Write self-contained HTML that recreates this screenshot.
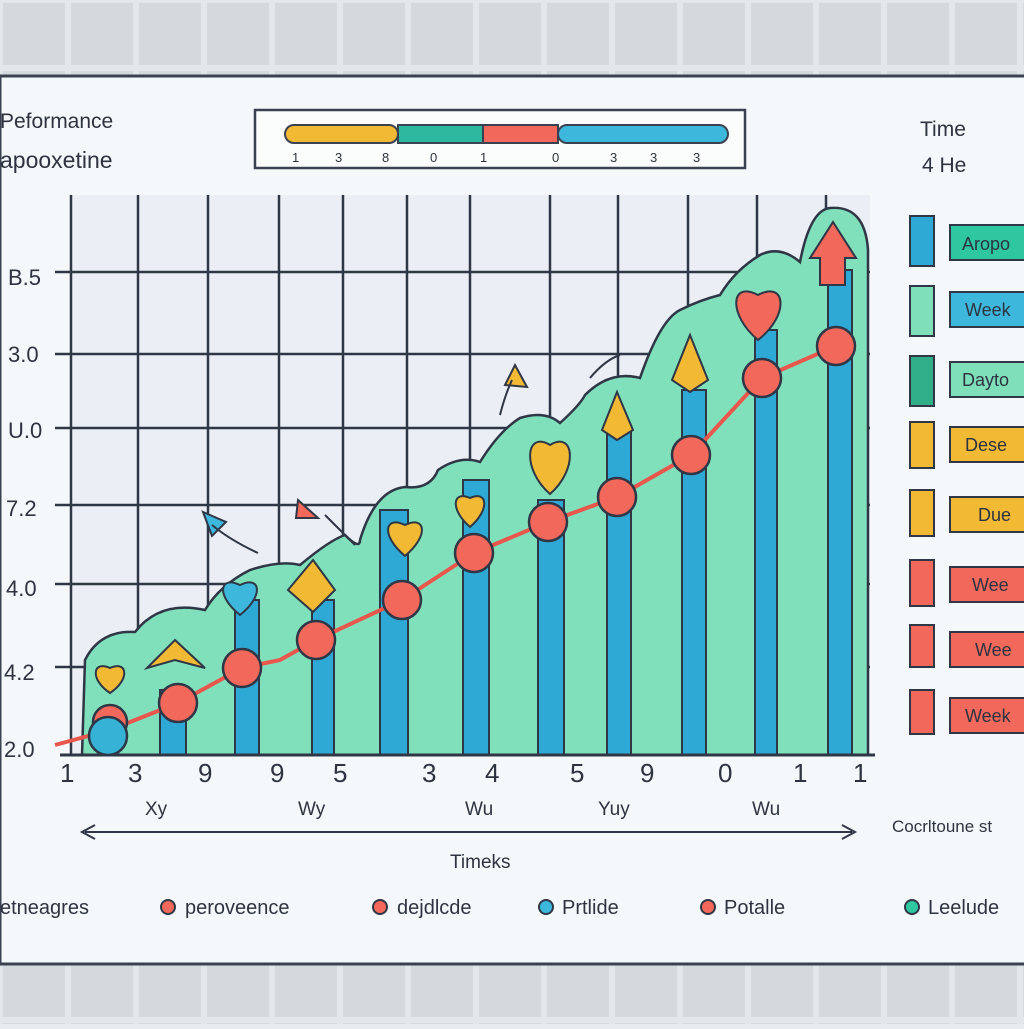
<!DOCTYPE html>
<html><head><meta charset="utf-8"><style>
body{margin:0;width:1024px;height:1024px;overflow:hidden;background:#e9ecef;font-family:"Liberation Sans",sans-serif}
</style></head><body>
<svg width="1024" height="1024" viewBox="0 0 1024 1024" xmlns="http://www.w3.org/2000/svg" font-family="Liberation Sans, sans-serif">
<defs>
<pattern id="bg" width="68" height="68" patternUnits="userSpaceOnUse"><rect width="68" height="68" fill="#e3e6ea"/><rect x="3" y="3" width="62" height="62" fill="#d5d9de"/></pattern>
</defs>
<rect width="1024" height="1024" fill="url(#bg)"/>
<rect x="0" y="76" width="1030" height="888" fill="#f5f8fa" stroke="#3a4150" stroke-width="3"/>
<rect x="70" y="195" width="800" height="560" fill="#eceef5"/>
<text x="0" y="128" font-size="21" fill="#2d3340">Peformance</text>
<text x="0" y="168" font-size="23" fill="#2d3340">apooxetine</text>
<rect x="255" y="110" width="490" height="58" fill="#fbfdfd" stroke="#3a4150" stroke-width="2.5"/>
<rect x="285" y="125" width="113" height="18" rx="9" fill="#f2b934" stroke="#3a4150" stroke-width="2"/>
<rect x="398" y="125" width="85" height="18" fill="#2db9a0" stroke="#3a4150" stroke-width="2"/>
<rect x="483" y="125" width="75" height="18" fill="#f2685a" stroke="#3a4150" stroke-width="2"/>
<rect x="558" y="125" width="170" height="18" rx="9" fill="#3db8dc" stroke="#3a4150" stroke-width="2"/>
<g font-size="13" fill="#2d3340"><text x="292" y="162">1</text><text x="335" y="162">3</text><text x="382" y="162">8</text><text x="430" y="162">0</text><text x="480" y="162">1</text><text x="552" y="162">0</text><text x="610" y="162">3</text><text x="650" y="162">3</text><text x="693" y="162">3</text></g>
<text x="920" y="136" font-size="21" fill="#2d3340">Time</text>
<text x="922" y="172" font-size="21" fill="#2d3340">4  He</text>
<g stroke="#2f3646" stroke-width="2.5">
<line x1="71" y1="195" x2="71" y2="755"/><line x1="138" y1="195" x2="138" y2="755"/><line x1="208" y1="195" x2="208" y2="755"/><line x1="279" y1="195" x2="279" y2="755"/><line x1="343" y1="195" x2="343" y2="755"/><line x1="407" y1="195" x2="407" y2="755"/><line x1="470" y1="195" x2="470" y2="755"/><line x1="550" y1="195" x2="550" y2="755"/><line x1="618" y1="195" x2="618" y2="755"/><line x1="688" y1="195" x2="688" y2="755"/><line x1="757" y1="195" x2="757" y2="755"/><line x1="826" y1="195" x2="826" y2="755"/>
<line x1="55" y1="272" x2="870" y2="272"/><line x1="55" y1="354" x2="870" y2="354"/><line x1="55" y1="428" x2="870" y2="428"/><line x1="55" y1="505" x2="870" y2="505"/><line x1="55" y1="584" x2="870" y2="584"/><line x1="55" y1="667" x2="870" y2="667"/>
</g>
<g font-size="22" fill="#2d3340"><text x="8" y="285">B.5</text><text x="8" y="362">3.0</text><text x="8" y="438">U.0</text><text x="6" y="516">7.2</text><text x="6" y="596">4.0</text><text x="4" y="680">4.2</text><text x="4" y="757">2.0</text></g>
<path d="M82 755 L85 660 Q100 630 135 632 Q160 600 205 610 Q220 585 250 570 Q280 560 300 565 Q330 540 345 535 Q360 550 360 540 Q375 490 405 487 Q430 490 438 470 Q460 455 480 462 Q500 430 520 418 Q545 410 560 423 Q580 405 585 395 Q610 370 640 378 Q660 320 680 310 Q700 300 720 295 Q735 270 760 255 Q780 245 800 262 Q810 210 830 208 Q865 205 868 250 L868 755 Z" fill="#80e0bb" stroke="#2f3646" stroke-width="2.5"/>
<g fill="#2ea9d6" stroke="#2f3646" stroke-width="2">
<rect x="160" y="690" width="26" height="65"/><rect x="235" y="600" width="24" height="155"/><rect x="312" y="600" width="22" height="155"/><rect x="380" y="510" width="28" height="245"/><rect x="463" y="480" width="26" height="275"/><rect x="538" y="500" width="26" height="255"/><rect x="607" y="430" width="24" height="325"/><rect x="682" y="390" width="24" height="365"/><rect x="755" y="330" width="22" height="425"/><rect x="828" y="270" width="24" height="485"/>
</g>
<line x1="60" y1="755" x2="875" y2="755" stroke="#2f3646" stroke-width="3"/>
<polyline points="55,745 110,730 178,703 242,668 280,660 316,640 402,600 474,553 548,522 617,497 691,455 762,378 836,346" fill="none" stroke="#e9564c" stroke-width="4"/>
<g fill="#f2685a" stroke="#2f3646" stroke-width="2.5">
<circle cx="110" cy="722" r="17"/><circle cx="178" cy="703" r="19"/><circle cx="242" cy="668" r="19"/><circle cx="316" cy="640" r="19"/><circle cx="402" cy="600" r="19"/><circle cx="474" cy="553" r="19"/><circle cx="548" cy="522" r="19"/><circle cx="617" cy="497" r="19"/><circle cx="691" cy="455" r="19"/><circle cx="762" cy="378" r="19"/><circle cx="836" cy="346" r="19"/>
</g>
<circle cx="108" cy="736" r="19" fill="#36b2d6" stroke="#2f3646" stroke-width="2.5"/>
<g stroke="#2f3646" stroke-width="2">
<path d="M110 693 C90 680 92 660 110 668 C128 660 130 680 110 693Z" fill="#f2b934"/>
<path d="M175 640 L205 668 L175 660 L147 668Z" fill="#f2b934"/>
<path d="M240 615 C215 595 220 575 240 585 C260 575 265 595 240 615Z" fill="#3db8dc"/>
<path d="M313 560 L335 590 L313 612 L288 590Z" fill="#f2b934"/>
<path d="M405 556 C380 535 385 515 405 525 C425 515 430 535 405 556Z" fill="#f2b934"/>
<path d="M470 527 C450 510 452 490 470 498 C488 490 490 510 470 527Z" fill="#f2b934"/>
<path d="M550 494 C522 470 525 430 550 445 C575 430 578 470 550 494Z" fill="#f2b934"/>
<path d="M617 392 L633 430 L617 440 L602 430Z" fill="#f2b934"/>
<path d="M690 335 L708 380 L690 392 L672 380Z" fill="#f2b934"/>
<path d="M758 340 C728 315 730 280 758 295 C786 280 790 315 758 340Z" fill="#f2685a"/>
<path d="M833 222 L856 258 L845 258 L845 285 L820 285 L820 258 L810 258Z" fill="#f2685a"/>
<path d="M515 365 L527 387 L505 385Z" fill="#f2b934"/>
<path d="M298 500 L318 518 L296 518Z" fill="#f2685a"/>
<path d="M203 512 L226 522 L212 536Z" fill="#3db8dc"/>
</g>
<g fill="none" stroke="#2f3646" stroke-width="2"><path d="M258 553 Q230 540 212 525"/><path d="M355 545 Q335 525 325 515"/><path d="M500 415 Q505 395 512 380"/><path d="M590 378 Q605 360 620 355"/></g>
<g font-size="26" fill="#2d3340"><text x="60" y="782">1</text><text x="128" y="782">3</text><text x="198" y="782">9</text><text x="270" y="782">9</text><text x="333" y="782">5</text><text x="422" y="782">3</text><text x="485" y="782">4</text><text x="570" y="782">5</text><text x="640" y="782">9</text><text x="718" y="782">0</text><text x="793" y="782">1</text><text x="853" y="782">1</text></g>
<g font-size="19" fill="#2d3340"><text x="145" y="815">Xy</text><text x="298" y="815">Wy</text><text x="465" y="815">Wu</text><text x="598" y="815">Yuy</text><text x="752" y="815">Wu</text></g>
<line x1="85" y1="832" x2="852" y2="832" stroke="#2f3646" stroke-width="2"/>
<path d="M95 825 L82 832 L95 839 M842 825 L855 832 L842 839" fill="none" stroke="#2f3646" stroke-width="2"/>
<text x="450" y="868" font-size="19" fill="#2d3340">Timeks</text>
<text x="892" y="832" font-size="17" fill="#2d3340">Cocrltoune st</text>
<g stroke="#2f3646" stroke-width="2">
<rect x="910" y="216" width="24" height="50" fill="#2ea9d6"/><rect x="950" y="225" width="80" height="35" fill="#2ec7a0"/>
<rect x="910" y="286" width="24" height="50" fill="#7fdfb9"/><rect x="950" y="292" width="80" height="35" fill="#3db8dc"/>
<rect x="910" y="356" width="24" height="50" fill="#2fae88"/><rect x="950" y="362" width="80" height="35" fill="#7fdfb9"/>
<rect x="910" y="422" width="24" height="46" fill="#f2b934"/><rect x="950" y="427" width="80" height="35" fill="#f2b934"/>
<rect x="910" y="490" width="24" height="46" fill="#f2b934"/><rect x="950" y="497" width="80" height="35" fill="#f2b934"/>
<rect x="910" y="560" width="24" height="46" fill="#f2685a"/><rect x="950" y="567" width="80" height="35" fill="#f2685a"/>
<rect x="910" y="625" width="24" height="42" fill="#f2685a"/><rect x="950" y="632" width="80" height="35" fill="#f2685a"/>
<rect x="910" y="690" width="24" height="44" fill="#f2685a"/><rect x="950" y="698" width="80" height="35" fill="#f2685a"/>
</g>
<g font-size="18" fill="#2d3340"><text x="962" y="250">Aropo</text><text x="965" y="316">Week</text><text x="962" y="386">Dayto</text><text x="965" y="451">Dese</text><text x="978" y="521">Due</text><text x="972" y="591">Wee</text><text x="975" y="656">Wee</text><text x="965" y="722">Week</text></g>
<g stroke="#2f3646" stroke-width="2"><circle cx="168" cy="907" r="7" fill="#f2685a"/><circle cx="380" cy="907" r="7" fill="#f2685a"/><circle cx="546" cy="907" r="7" fill="#3db8dc"/><circle cx="708" cy="907" r="7" fill="#f2685a"/><circle cx="912" cy="907" r="7" fill="#2ec7a0"/></g>
<g font-size="20" fill="#2d3340"><text x="0" y="914">etneagres</text><text x="185" y="914">peroveence</text><text x="397" y="914">dejdlcde</text><text x="562" y="914">Prtlide</text><text x="724" y="914">Potalle</text><text x="928" y="914">Leelude</text></g>
</svg>
</body></html>
